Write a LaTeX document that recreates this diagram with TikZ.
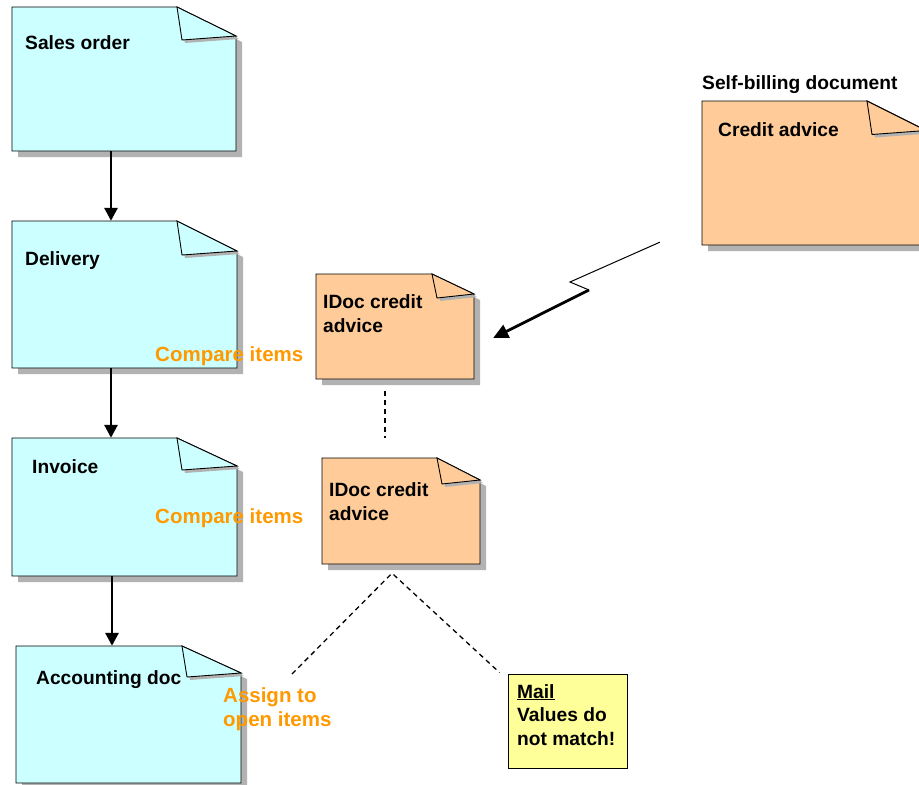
\documentclass[tikz,border=0pt]{standalone}
\usepackage{fontspec}
\setmainfont{Liberation Sans}
\usetikzlibrary{arrows.meta}
\definecolor{docblue}{HTML}{CCFFFF}
\definecolor{docorange}{HTML}{FFCC99}
\definecolor{noteyellow}{HTML}{FFFF99}
\definecolor{noteorange}{HTML}{FF9900}
\definecolor{shadowgray}{HTML}{B2B2B2}
\tikzset{
  docline/.style={draw=black, line width=0.9pt, line join=miter},
  doctext/.style={inner sep=0pt, anchor=base west, align=left,
    font=\fontsize{19.2}{23.5}\selectfont\bfseries},
  notetext/.style={doctext, text=noteorange,
    font=\fontsize{20.5}{24}\selectfont\bfseries},
  flow/.style={line width=2.8pt, -{Triangle[length=13pt,width=13pt]}},
  signal/.style={line width=2.8pt, -{Triangle[length=15pt,width=14pt]}},
  thinsignal/.style={line width=1pt},
  linkdash/.style={line width=1.3pt, dash pattern=on 5pt off 4pt},
}
% #1 name, #2 left, #3 top, #4 right, #5 bottom, #6 fill, #7 fold dx, #8 fold dy
\newcommand\foldeddoc[8]{%
  \pgfmathsetmacro\fdx{#4-#7}%
  \pgfmathsetmacro\fdy{#3+#8}%
  \fill[shadowgray] ({#2+6},{#3+6}) -- ({\fdx+6},{#3+6}) -- ({#4+6},{\fdy+6})
     -- ({#4+6},{#5+6}) -- ({#2+6},{#5+6}) -- cycle;
  \filldraw[fill=#6, docline] (#2,#3) -- (\fdx,#3) -- (#4,\fdy) -- (#4,#5)
     -- (#2,#5) -- cycle;
  \fill[shadowgray] ({\fdx+3},{#3+3}) -- ({\fdx+8},{\fdy+7}) -- ({#4+3},{\fdy+3}) -- cycle;
  \filldraw[fill=#6, docline] (\fdx,#3) -- ({\fdx+5},{\fdy+4}) -- (#4,\fdy) -- cycle;
  \node[inner sep=0pt, minimum width={#4-#2}, minimum height={#5-#3}]
     (#1) at ({(#2+#4)/2},{(#3+#5)/2}) {};
}
\begin{document}
\begin{tikzpicture}[x=1pt, y=-1pt]
\clip (0,0) rectangle (919,785);
\fill[white] (0,0) rectangle (919,785);

% documents
\foldeddoc{so}{12}{7}{236}{151}{docblue}{59}{29}
\foldeddoc{de}{12}{221}{237}{368}{docblue}{60}{30}
\foldeddoc{inv}{12}{438}{237}{576}{docblue}{60}{28}
\foldeddoc{acc}{16}{646}{241}{783}{docblue}{59}{27}
\foldeddoc{ca}{702}{101}{926}{245}{docorange}{59}{29.5}
\foldeddoc{id1}{316}{274}{474}{379}{docorange}{42}{20}
\foldeddoc{id2}{322}{458}{480}{564}{docorange}{43}{22}

% mail note
\node[draw=black, line width=0.9pt, fill=noteyellow, inner sep=0pt,
      minimum width=119, minimum height=94] (mail) at (567.5,721) {};

% texts (multi-line nodes: base anchor is the last line's baseline)
\node[doctext] (so-t) at (25,49) {Sales order};
\node[doctext] (de-t) at (25,265) {Delivery};
\node[doctext] (inv-t) at (32,473) {Invoice};
\node[doctext] (acc-t) at (36,684) {Accounting doc};
\node[doctext] (sb-t) at (702,89) {Self-billing document};
\node[doctext] (ca-t) at (718,136) {Credit advice};
\node[doctext] (id1-t) at (323,332) {IDoc credit\\advice};
\node[doctext] (id2-t) at (329,520) {IDoc credit\\advice};
\node[doctext] (mail-t) at (517,745) {\underline{Mail}\\Values do\\not match!};

\node[notetext] (cmp1) at (155,361) {Compare items};
\node[notetext] (cmp2) at (155,523) {Compare items};
\node[notetext] (asg) at (223,726) {Assign to\\open items};

% flow arrows
\draw[flow] ([xshift=-13pt]so.south) -- ([xshift=-13pt]so.south |- de.north);
\draw[flow] ([xshift=-13.5pt]de.south) -- ([xshift=-13.5pt]de.south |- inv.north);
\draw[flow] ([xshift=-12.5pt]inv.south) -- ([xshift=-12.5pt]inv.south |- acc.north);

% zigzag signal from credit advice to IDoc
\coordinate (zs) at ([shift={(-42,-3)}]ca.south west);
\coordinate (z1) at (570,282);
\coordinate (z2) at (589,290);
\coordinate (zt) at ([shift={(19,11.5)}]id1.east);
\draw[thinsignal] (zs) -- (z1) -- (z2);
\draw[signal] (z2) -- (zt);

% dashed links
\draw[linkdash] ([shift={(-10,12)}]id1.south) -- ([shift={(-16,-20)}]id2.north);
\coordinate (apex) at ([shift={(-9,9)}]id2.south);
\coordinate (aleft) at (292,674);
\draw[linkdash] (aleft) -- (apex) -- ([shift={(-8,-1)}]mail.north west);
\end{tikzpicture}
\end{document}
